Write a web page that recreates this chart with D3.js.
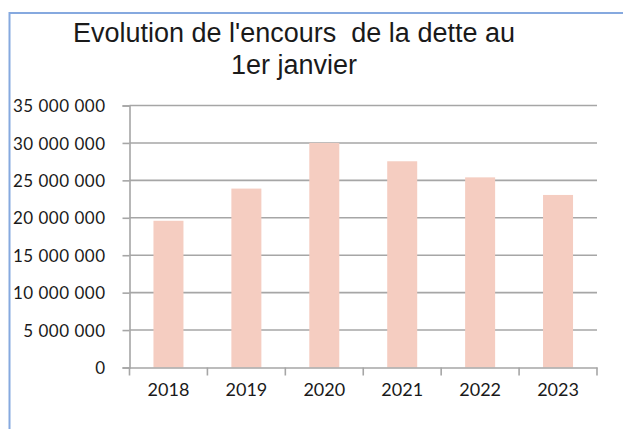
<!DOCTYPE html>
<html><head><meta charset="utf-8">
<script src="https://cdn.jsdelivr.net/npm/d3@7"></script>
<style>html,body{margin:0;padding:0;background:#fff;}svg{display:block;}</style>
</head><body>
<svg id="chart" width="623" height="429"></svg>
<script>
const categories = ["2018","2019","2020","2021","2022","2023"];
const values = [19600000, 23900000, 30000000, 27550000, 25400000, 23050000];
const yTicks = [0, 5000000, 10000000, 15000000, 20000000, 25000000, 30000000, 35000000];
const titleLines = ["Evolution de l'encours  de la dette au", "1er janvier"];

const svg = d3.select("#chart");
// chart frame
svg.append("rect").attr("x", 9.5).attr("y", 13).attr("width", 700).attr("height", 500)
  .attr("fill", "#fff").attr("stroke", "#86a9df").attr("stroke-width", 2);

const x0 = 129.5, x1 = 597, yTop = 105.5, yBot = 367.5;
const x = d3.scaleBand().domain(categories).range([x0, x1]).paddingInner(0.615).paddingOuter(0.3075);
const y = d3.scaleLinear().domain([0, 35000000]).range([yBot, yTop]);
const step = x.step();
const fmt = v => d3.format(",")(v).replace(/,/g, "\u00a0");

// gridlines
svg.append("g").selectAll("line").data(yTicks.filter(d => d > 0)).join("line")
  .attr("x1", x0).attr("x2", x1).attr("y1", d => y(d)).attr("y2", d => y(d))
  .attr("stroke", "#a6a6a6").attr("stroke-width", 1.6);

// bars
svg.append("g").selectAll("rect").data(values).join("rect")
  .attr("x", (d, i) => x(categories[i])).attr("width", x.bandwidth())
  .attr("y", d => y(d)).attr("height", d => y(0) - y(d))
  .attr("fill", "#f5cdc1");

// y axis
const yAxis = svg.append("g").attr("transform", `translate(${x0},0)`)
  .call(d3.axisLeft(y).tickValues(yTicks).tickFormat(fmt).tickSize(7).tickPadding(17));
yAxis.select(".domain").attr("stroke", "#a6a6a6").attr("stroke-width", 1.6);
yAxis.selectAll(".tick line").attr("stroke", "#a6a6a6").attr("stroke-width", 1.6);
yAxis.selectAll("text").attr("font-family", "Lato, 'Open Sans', sans-serif").attr("font-size", 17)
  .attr("letter-spacing", 0.5)
  .attr("fill", "#1a1a1a").attr("dy", "0.36em");

// x axis
const xAxis = svg.append("g").attr("transform", `translate(0,${yBot})`)
  .call(d3.axisBottom(x).tickSize(0).tickPadding(28));
xAxis.select(".domain").attr("stroke", "#a6a6a6").attr("stroke-width", 1.6);
xAxis.selectAll("text").attr("font-family", "Lato, 'Open Sans', sans-serif").attr("font-size", 18)
  .attr("fill", "#1a1a1a").attr("dy", "0");
// boundary tick marks
const bounds = d3.range(categories.length + 1).map(i => x0 + i * step);
xAxis.append("g").selectAll("line").data(bounds).join("line")
  .attr("x1", d => d).attr("x2", d => d).attr("y1", 0).attr("y2", 8)
  .attr("stroke", "#a6a6a6").attr("stroke-width", 1.6);

// title
svg.append("g").selectAll("text").data(titleLines).join("text")
  .attr("x", 294).attr("y", (d, i) => 42 + i * 32)
  .attr("text-anchor", "middle")
  .attr("font-family", "'Liberation Sans', Arial, sans-serif").attr("font-size", 27)
  .attr("fill", "#1a1a1a").style("white-space", "pre")
  .text(d => d);
</script>
</body></html>
